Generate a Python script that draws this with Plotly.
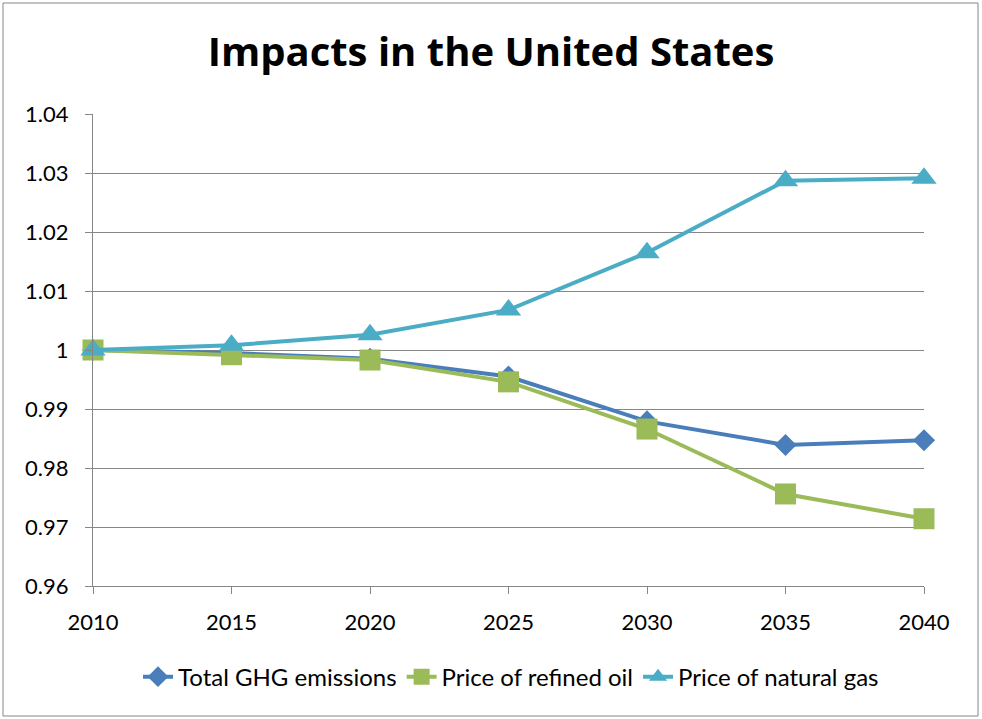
import plotly.graph_objects as go

years = [2010, 2015, 2020, 2025, 2030, 2035, 2040]
ghg = [1.0, 0.9995, 0.9985, 0.9955, 0.9879, 0.9839, 0.9847]
oil = [1.0, 0.9992, 0.9983, 0.9946, 0.9866, 0.9756, 0.9714]
gas = [1.0, 1.0008, 1.0026, 1.0068, 1.0165, 1.0287, 1.0291]
y_ticks = [0.96, 0.97, 0.98, 0.99, 1.0, 1.01, 1.02, 1.03, 1.04]
y_labels = ["0.96", "0.97", "0.98", "0.99", "1", "1.01", "1.02", "1.03", "1.04"]

FONT = "Lato"

fig = go.Figure()
fig.add_trace(go.Scatter(x=years, y=ghg, name="Total GHG emissions", mode="lines+markers",
                         line=dict(color="#4a7ebb", width=4), cliponaxis=False,
                         marker=dict(symbol="diamond", size=17, color="#4a7ebb")))
fig.add_trace(go.Scatter(x=years, y=oil, name="Price of refined oil", mode="lines+markers",
                         line=dict(color="#9bbb59", width=4), cliponaxis=False,
                         marker=dict(symbol="square", size=21, color="#9bbb59")))
fig.add_trace(go.Scatter(x=years, y=gas, name="Price of natural gas", mode="lines+markers",
                         line=dict(color="#4bacc6", width=4), cliponaxis=False,
                         marker=dict(symbol="triangle-up", size=22, color="#4bacc6")))

fig.update_layout(
    width=982, height=719,
    margin=dict(l=93, r=58, t=114, b=133),
    paper_bgcolor="white", plot_bgcolor="white",
    font=dict(family=FONT, color="black", size=22),
    title=dict(text="<b>Impacts in the United States</b>", x=0.5, xanchor="center",
               y=1 - 52 / 719, yanchor="middle", font=dict(size=40, family="Open Sans")),
    xaxis=dict(range=[2010, 2040], tickvals=years, ticks="outside", ticklen=7,
               tickcolor="#868686", showline=True, linecolor="#868686", linewidth=1,
               showgrid=False, zeroline=False, tickfont=dict(size=22), ticklabelstandoff=10,
               fixedrange=True),
    yaxis=dict(range=[0.96, 1.04], tickvals=y_ticks, ticktext=y_labels, ticks="outside",
               ticklen=7, tickcolor="#868686", showline=True, linecolor="#868686",
               gridcolor="#868686", gridwidth=1, showgrid=True, zeroline=False,
               tickfont=dict(size=22), ticklabelstandoff=12),
    legend=dict(orientation="h", x=0.503, xanchor="center", y=-0.193, yanchor="middle",
                font=dict(size=24), tracegroupgap=0),
    showlegend=True,
    shapes=[dict(type="rect", xref="paper", yref="paper",
                 x0=(3 - 93) / 831, x1=(978 - 93) / 831,
                 y0=(586 - 716) / 472, y1=(586 - 3) / 472,
                 line=dict(color="#868686", width=1), fillcolor="rgba(0,0,0,0)", layer="below")],
)

fig.write_html("out.html", config={"displayModeBar": False},
               post_script="document.body.style.margin='0';")
